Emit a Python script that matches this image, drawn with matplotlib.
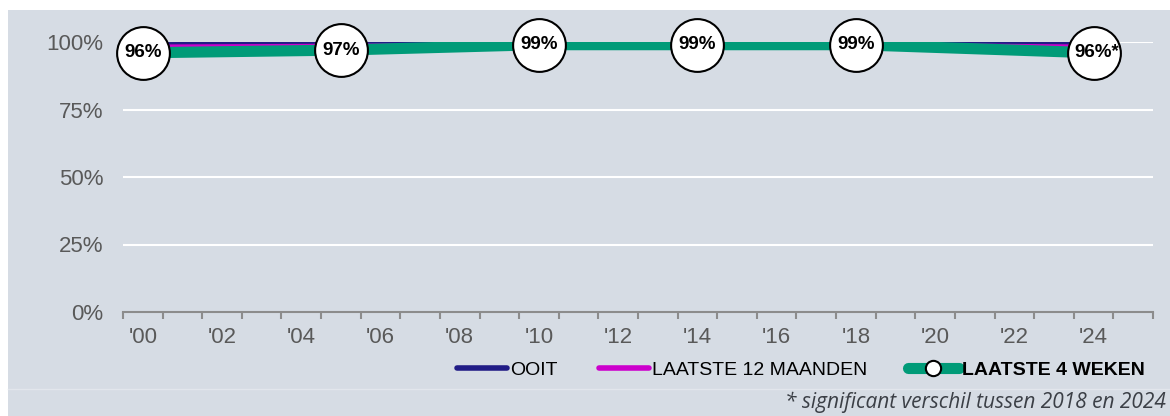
import numpy as np
import matplotlib.pyplot as plt
from matplotlib.patches import Rectangle
from matplotlib.lines import Line2D

years = [2000, 2005, 2010, 2014, 2018, 2024]
ooit = [99.3, 99.6, 99.7, 99.7, 99.7, 99.4]
laatste_12_maanden = [98.5, 98.8, 99.2, 99.2, 99.2, 98.5]
laatste_4_weken = [96, 97, 99, 99, 99, 96]
point_labels = ['96%', '97%', '99%', '99%', '99%', '96%*']
tick_years = list(range(2000, 2025, 2))
tick_labels = ["'%02d" % (y % 100) for y in tick_years]

navy = '#211C86'
magenta = '#CC00CC'
teal = '#009B78'
panel = '#D6DCE4'

plt.rcParams['font.family'] = ['Liberation Sans', 'DejaVu Sans']

fig = plt.figure(figsize=(11.7, 4.16), dpi=100)
fig.patches.append(Rectangle((8 / 1170, 0), 1, 406 / 416, transform=fig.transFigure,
                             facecolor=panel, edgecolor='none', zorder=-2))
fig.lines.append(Line2D([8 / 1170, 1], [27 / 416, 27 / 416], transform=fig.transFigure,
                        color='#E2E6EC', lw=1, zorder=-1))

ax = fig.add_axes([123 / 1170, 104 / 416, 1030 / 1170, 270 / 416])
ax.set_zorder(2)
ax.set_facecolor('none')
ax.set_xlim(1999.5, 2025.5)
ax.set_ylim(0, 100)

for v in [25, 50, 75, 100]:
    ax.axhline(v, color='white', lw=1.5, zorder=1)

ax.plot(years, laatste_12_maanden, color=magenta, lw=2.2, zorder=3, solid_capstyle='butt')
ax.plot(years, ooit, color=navy, lw=2.5, zorder=2, solid_capstyle='butt')
ax.plot(years, laatste_4_weken, color=teal, lw=8, zorder=4, solid_capstyle='butt')
ax.plot(years, laatste_4_weken, 'o', ms=38, mfc='white', mec='black', mew=1.5,
        zorder=5, clip_on=False)
for x, y, lab in zip(years, laatste_4_weken, point_labels):
    dx = 0.08 if lab.endswith('*') else 0
    ax.text(x + dx, y, lab, ha='center', va='center', fontsize=13.5,
            fontweight='bold', zorder=6)

for s in ['top', 'right', 'left']:
    ax.spines[s].set_visible(False)
ax.spines['bottom'].set_color('#8C8C8C')
ax.spines['bottom'].set_linewidth(1.5)

ax.set_yticks([0, 25, 50, 75, 100])
ax.set_yticklabels(['0%', '25%', '50%', '75%', '100%'])
ax.set_xticks(tick_years)
ax.set_xticklabels(tick_labels)
ax.set_xticks(np.arange(1999.5, 2026, 1), minor=True)
ax.tick_params(axis='y', length=0, pad=14, labelsize=16, labelcolor='#595959')
ax.tick_params(axis='x', which='major', length=0, pad=11, labelsize=16, labelcolor='#595959')
ax.tick_params(axis='x', which='minor', length=5, width=1.5, color='#8C8C8C', direction='out')

handles = [
    Line2D([], [], color=navy, lw=4, solid_capstyle='round'),
    Line2D([], [], color=magenta, lw=4, solid_capstyle='round'),
    Line2D([], [], color=teal, lw=8, marker='o', ms=11, mfc='white', mec='black', mew=1.5,
           solid_capstyle='round'),
]
leg = fig.legend(handles, ['OOIT', 'LAATSTE 12 MAANDEN', 'LAATSTE 4 WEKEN'],
                 loc='center right', bbox_to_anchor=(1162 / 1170, 46 / 416), ncol=3,
                 frameon=False, fontsize=14, handlelength=2.6, handletextpad=0.15,
                 columnspacing=2.1)
leg.get_texts()[2].set_fontweight('bold')

fig.text(1166 / 1170, 3 / 416, '* significant verschil tussen 2018 en 2024', ha='right',
         va='bottom', fontsize=15, style='italic', family='Open Sans', color='#3B3F46')

fig.savefig('out.png', dpi=100)
